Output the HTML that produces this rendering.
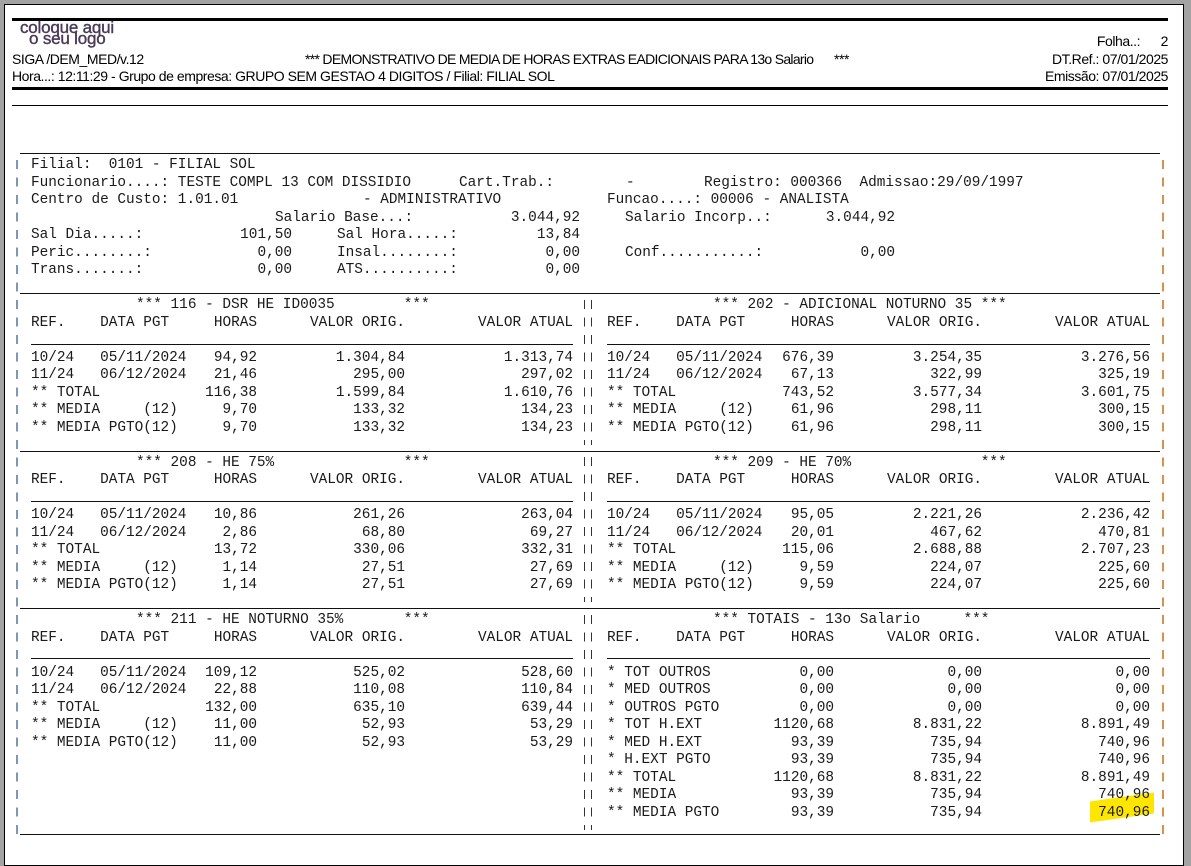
<!DOCTYPE html>
<html><head><meta charset="utf-8"><style>
body{margin:0;width:1191px;height:852px;background:#a3a3a3;position:relative;overflow:hidden}
.pg{position:absolute;left:4px;top:4px;width:1178px;height:860px;background:#fff;border:1px solid #000}
.t{position:absolute;white-space:pre;font-family:"Liberation Mono",monospace;font-size:14.4px;line-height:1;color:#1a1a1a}
.h{position:absolute;white-space:pre;font-family:"Liberation Sans",sans-serif;font-size:14px;line-height:1;color:#000;letter-spacing:-0.45px}
.ln{position:absolute;height:1px;background:#111}
</style></head><body>
<div class="pg"></div>
<div style="position:absolute;left:12px;top:18px;width:1156px;height:3px;background:#000"></div>
<div style="position:absolute;left:12px;top:87px;width:1156px;height:3px;background:#000"></div>
<div style="position:absolute;left:12px;top:105px;width:1156px;height:1px;background:#000"></div>
<div style="position:absolute;left:20px;top:22px;font:17px/11px 'Liberation Sans',sans-serif;color:#4a3a5a;letter-spacing:-0.2px;-webkit-text-stroke:0.4px #4a3a5a">coloque aqui<br>&nbsp;&nbsp;o seu logo</div>
<div class="h" style="right:23px;top:34px">Folha..:      2</div>
<div class="h" style="left:12px;top:52px">SIGA /DEM_MED/v.12</div>
<div class="h" style="left:305px;top:52px;letter-spacing:-0.7px">*** DEMONSTRATIVO DE MEDIA DE HORAS EXTRAS EADICIONAIS PARA 13o Salario</div>
<div class="h" style="left:834px;top:52px">***</div>
<div class="h" style="right:23px;top:52px">DT.Ref.: 07/01/2025</div>
<div class="h" style="left:12px;top:69px">Hora...: 12:11:29 - Grupo de empresa: GRUPO SEM GESTAO 4 DIGITOS / Filial: FILIAL SOL</div>
<div class="h" style="right:23px;top:69px">Emissão: 07/01/2025</div>

<div style="position:absolute;left:1090px;top:797px;width:64px;height:21px;background:#ffe600;transform:skewY(-8deg)"></div>

<div class="ln" style="left:20px;width:1140px;top:153px"></div>
<div class="ln" style="left:20px;width:1140px;top:293px"></div>
<div class="ln" style="left:20px;width:1140px;top:451px"></div>
<div class="ln" style="left:20px;width:1140px;top:608px"></div>
<div class="ln" style="left:20px;width:1140px;top:834px"></div>
<div class="ln" style="left:31px;width:542px;top:344px"></div><div class="ln" style="left:607px;width:543px;top:344px"></div>
<div class="ln" style="left:31px;width:542px;top:501px"></div><div class="ln" style="left:607px;width:543px;top:501px"></div>
<div class="ln" style="left:31px;width:542px;top:658px"></div><div class="ln" style="left:607px;width:543px;top:658px"></div>

<div style="position:absolute;left:16px;top:160px;width:2px;height:675px;background:repeating-linear-gradient(to bottom,#7c98b8 0 9px,transparent 9px 17.5px)"></div>
<div style="position:absolute;left:1162px;top:160px;width:2px;height:675px;background:repeating-linear-gradient(to bottom,#d8914a 0 9px,transparent 9px 17.5px)"></div>

<div style="position:absolute;left:584px;top:300px;width:9px;height:145px;background:repeating-linear-gradient(to bottom,#333 0 9px,transparent 9px 17.5px);-webkit-mask:linear-gradient(to right,#000 0 1px,transparent 1px 7px,#000 7px 8px,transparent 8px);mask:linear-gradient(to right,#000 0 1px,transparent 1px 7px,#000 7px 8px,transparent 8px)"></div>
<div style="position:absolute;left:584px;top:457px;width:9px;height:145px;background:repeating-linear-gradient(to bottom,#333 0 9px,transparent 9px 17.5px);-webkit-mask:linear-gradient(to right,#000 0 1px,transparent 1px 7px,#000 7px 8px,transparent 8px);mask:linear-gradient(to right,#000 0 1px,transparent 1px 7px,#000 7px 8px,transparent 8px)"></div>
<div style="position:absolute;left:584px;top:615px;width:9px;height:215px;background:repeating-linear-gradient(to bottom,#333 0 9px,transparent 9px 17.5px);-webkit-mask:linear-gradient(to right,#000 0 1px,transparent 1px 7px,#000 7px 8px,transparent 8px);mask:linear-gradient(to right,#000 0 1px,transparent 1px 7px,#000 7px 8px,transparent 8px)"></div>

<div class="t" style="left:31px;top:158px">Filial:  0101 - FILIAL SOL</div>
<div class="t" style="left:31px;top:175.5px">Funcionario....: TESTE COMPL 13 COM DISSIDIO</div>
<div class="t" style="left:459px;top:175.5px">Cart.Trab.:</div>
<div class="t" style="left:626px;top:175.5px">-</div>
<div class="t" style="left:704px;top:175.5px">Registro: 000366  Admissao:29/09/1997</div>
<div class="t" style="left:31px;top:193px">Centro de Custo: 1.01.01</div>
<div class="t" style="left:363px;top:193px">- ADMINISTRATIVO</div>
<div class="t" style="left:607px;top:193px">Funcao....: 00006 - ANALISTA</div>
<div class="t" style="left:275px;top:210.5px">Salario Base...:</div>
<div class="t" style="right:611px;top:210.5px">3.044,92</div>
<div class="t" style="left:625px;top:210.5px">Salario Incorp..:</div>
<div class="t" style="right:296px;top:210.5px">3.044,92</div>
<div class="t" style="left:31px;top:228px">Sal Dia.....:</div>
<div class="t" style="right:899px;top:228px">101,50</div>
<div class="t" style="left:337px;top:228px">Sal Hora.....:</div>
<div class="t" style="right:611px;top:228px">13,84</div>
<div class="t" style="left:31px;top:245.5px">Peric........:</div>
<div class="t" style="right:899px;top:245.5px">0,00</div>
<div class="t" style="left:337px;top:245.5px">Insal........:</div>
<div class="t" style="right:611px;top:245.5px">0,00</div>
<div class="t" style="left:625px;top:245.5px">Conf...........:</div>
<div class="t" style="right:296px;top:245.5px">0,00</div>
<div class="t" style="left:31px;top:263px">Trans.......:</div>
<div class="t" style="right:899px;top:263px">0,00</div>
<div class="t" style="left:337px;top:263px">ATS..........:</div>
<div class="t" style="right:611px;top:263px">0,00</div>

<div class="t" style="left:136px;top:298px">*** 116 - DSR HE ID0035        ***</div>
<div class="t" style="left:713px;top:298px">*** 202 - ADICIONAL NOTURNO 35 ***</div>
<div class="t" style="left:31px;top:315.5px">REF.    DATA PGT</div><div class="t" style="right:934px;top:315.5px">HORAS</div><div class="t" style="right:786px;top:315.5px">VALOR ORIG.</div><div class="t" style="right:618px;top:315.5px">VALOR ATUAL</div>
<div class="t" style="left:607px;top:315.5px">REF.    DATA PGT</div><div class="t" style="right:357px;top:315.5px">HORAS</div><div class="t" style="right:209px;top:315.5px">VALOR ORIG.</div><div class="t" style="right:41px;top:315.5px">VALOR ATUAL</div>

<div class="t" style="left:31px;top:350.5px">10/24   05/11/2024</div><div class="t" style="right:934px;top:350.5px">94,92</div><div class="t" style="right:786px;top:350.5px">1.304,84</div><div class="t" style="right:618px;top:350.5px">1.313,74</div>
<div class="t" style="left:607px;top:350.5px">10/24   05/11/2024</div><div class="t" style="right:357px;top:350.5px">676,39</div><div class="t" style="right:209px;top:350.5px">3.254,35</div><div class="t" style="right:41px;top:350.5px">3.276,56</div>
<div class="t" style="left:31px;top:368px">11/24   06/12/2024</div><div class="t" style="right:934px;top:368px">21,46</div><div class="t" style="right:786px;top:368px">295,00</div><div class="t" style="right:618px;top:368px">297,02</div>
<div class="t" style="left:607px;top:368px">11/24   06/12/2024</div><div class="t" style="right:357px;top:368px">67,13</div><div class="t" style="right:209px;top:368px">322,99</div><div class="t" style="right:41px;top:368px">325,19</div>
<div class="t" style="left:31px;top:385.5px">** TOTAL</div><div class="t" style="right:934px;top:385.5px">116,38</div><div class="t" style="right:786px;top:385.5px">1.599,84</div><div class="t" style="right:618px;top:385.5px">1.610,76</div>
<div class="t" style="left:607px;top:385.5px">** TOTAL</div><div class="t" style="right:357px;top:385.5px">743,52</div><div class="t" style="right:209px;top:385.5px">3.577,34</div><div class="t" style="right:41px;top:385.5px">3.601,75</div>
<div class="t" style="left:31px;top:403px">** MEDIA     (12)</div><div class="t" style="right:934px;top:403px">9,70</div><div class="t" style="right:786px;top:403px">133,32</div><div class="t" style="right:618px;top:403px">134,23</div>
<div class="t" style="left:607px;top:403px">** MEDIA     (12)</div><div class="t" style="right:357px;top:403px">61,96</div><div class="t" style="right:209px;top:403px">298,11</div><div class="t" style="right:41px;top:403px">300,15</div>
<div class="t" style="left:31px;top:420.5px">** MEDIA PGTO(12)</div><div class="t" style="right:934px;top:420.5px">9,70</div><div class="t" style="right:786px;top:420.5px">133,32</div><div class="t" style="right:618px;top:420.5px">134,23</div>
<div class="t" style="left:607px;top:420.5px">** MEDIA PGTO(12)</div><div class="t" style="right:357px;top:420.5px">61,96</div><div class="t" style="right:209px;top:420.5px">298,11</div><div class="t" style="right:41px;top:420.5px">300,15</div>

<div class="t" style="left:136px;top:455.5px">*** 208 - HE 75%               ***</div>
<div class="t" style="left:713px;top:455.5px">*** 209 - HE 70%               ***</div>
<div class="t" style="left:31px;top:473px">REF.    DATA PGT</div><div class="t" style="right:934px;top:473px">HORAS</div><div class="t" style="right:786px;top:473px">VALOR ORIG.</div><div class="t" style="right:618px;top:473px">VALOR ATUAL</div>
<div class="t" style="left:607px;top:473px">REF.    DATA PGT</div><div class="t" style="right:357px;top:473px">HORAS</div><div class="t" style="right:209px;top:473px">VALOR ORIG.</div><div class="t" style="right:41px;top:473px">VALOR ATUAL</div>
<div class="t" style="left:31px;top:508px">10/24   05/11/2024</div><div class="t" style="right:934px;top:508px">10,86</div><div class="t" style="right:786px;top:508px">261,26</div><div class="t" style="right:618px;top:508px">263,04</div>
<div class="t" style="left:607px;top:508px">10/24   05/11/2024</div><div class="t" style="right:357px;top:508px">95,05</div><div class="t" style="right:209px;top:508px">2.221,26</div><div class="t" style="right:41px;top:508px">2.236,42</div>
<div class="t" style="left:31px;top:525.5px">11/24   06/12/2024</div><div class="t" style="right:934px;top:525.5px">2,86</div><div class="t" style="right:786px;top:525.5px">68,80</div><div class="t" style="right:618px;top:525.5px">69,27</div>
<div class="t" style="left:607px;top:525.5px">11/24   06/12/2024</div><div class="t" style="right:357px;top:525.5px">20,01</div><div class="t" style="right:209px;top:525.5px">467,62</div><div class="t" style="right:41px;top:525.5px">470,81</div>
<div class="t" style="left:31px;top:543px">** TOTAL</div><div class="t" style="right:934px;top:543px">13,72</div><div class="t" style="right:786px;top:543px">330,06</div><div class="t" style="right:618px;top:543px">332,31</div>
<div class="t" style="left:607px;top:543px">** TOTAL</div><div class="t" style="right:357px;top:543px">115,06</div><div class="t" style="right:209px;top:543px">2.688,88</div><div class="t" style="right:41px;top:543px">2.707,23</div>
<div class="t" style="left:31px;top:560.5px">** MEDIA     (12)</div><div class="t" style="right:934px;top:560.5px">1,14</div><div class="t" style="right:786px;top:560.5px">27,51</div><div class="t" style="right:618px;top:560.5px">27,69</div>
<div class="t" style="left:607px;top:560.5px">** MEDIA     (12)</div><div class="t" style="right:357px;top:560.5px">9,59</div><div class="t" style="right:209px;top:560.5px">224,07</div><div class="t" style="right:41px;top:560.5px">225,60</div>
<div class="t" style="left:31px;top:578px">** MEDIA PGTO(12)</div><div class="t" style="right:934px;top:578px">1,14</div><div class="t" style="right:786px;top:578px">27,51</div><div class="t" style="right:618px;top:578px">27,69</div>
<div class="t" style="left:607px;top:578px">** MEDIA PGTO(12)</div><div class="t" style="right:357px;top:578px">9,59</div><div class="t" style="right:209px;top:578px">224,07</div><div class="t" style="right:41px;top:578px">225,60</div>

<div class="t" style="left:136px;top:613px">*** 211 - HE NOTURNO 35%       ***</div>
<div class="t" style="left:713px;top:613px">*** TOTAIS - 13o Salario     ***</div>
<div class="t" style="left:31px;top:630.5px">REF.    DATA PGT</div><div class="t" style="right:934px;top:630.5px">HORAS</div><div class="t" style="right:786px;top:630.5px">VALOR ORIG.</div><div class="t" style="right:618px;top:630.5px">VALOR ATUAL</div>
<div class="t" style="left:607px;top:630.5px">REF.    DATA PGT</div><div class="t" style="right:357px;top:630.5px">HORAS</div><div class="t" style="right:209px;top:630.5px">VALOR ORIG.</div><div class="t" style="right:41px;top:630.5px">VALOR ATUAL</div>
<div class="t" style="left:31px;top:665.5px">10/24   05/11/2024</div><div class="t" style="right:934px;top:665.5px">109,12</div><div class="t" style="right:786px;top:665.5px">525,02</div><div class="t" style="right:618px;top:665.5px">528,60</div>
<div class="t" style="left:31px;top:683px">11/24   06/12/2024</div><div class="t" style="right:934px;top:683px">22,88</div><div class="t" style="right:786px;top:683px">110,08</div><div class="t" style="right:618px;top:683px">110,84</div>
<div class="t" style="left:31px;top:700.5px">** TOTAL</div><div class="t" style="right:934px;top:700.5px">132,00</div><div class="t" style="right:786px;top:700.5px">635,10</div><div class="t" style="right:618px;top:700.5px">639,44</div>
<div class="t" style="left:31px;top:718px">** MEDIA     (12)</div><div class="t" style="right:934px;top:718px">11,00</div><div class="t" style="right:786px;top:718px">52,93</div><div class="t" style="right:618px;top:718px">53,29</div>
<div class="t" style="left:31px;top:735.5px">** MEDIA PGTO(12)</div><div class="t" style="right:934px;top:735.5px">11,00</div><div class="t" style="right:786px;top:735.5px">52,93</div><div class="t" style="right:618px;top:735.5px">53,29</div>

<div class="t" style="left:607px;top:665.5px">* TOT OUTROS</div><div class="t" style="right:357px;top:665.5px">0,00</div><div class="t" style="right:209px;top:665.5px">0,00</div><div class="t" style="right:41px;top:665.5px">0,00</div>
<div class="t" style="left:607px;top:683px">* MED OUTROS</div><div class="t" style="right:357px;top:683px">0,00</div><div class="t" style="right:209px;top:683px">0,00</div><div class="t" style="right:41px;top:683px">0,00</div>
<div class="t" style="left:607px;top:700.5px">* OUTROS PGTO</div><div class="t" style="right:357px;top:700.5px">0,00</div><div class="t" style="right:209px;top:700.5px">0,00</div><div class="t" style="right:41px;top:700.5px">0,00</div>
<div class="t" style="left:607px;top:718px">* TOT H.EXT</div><div class="t" style="right:357px;top:718px">1120,68</div><div class="t" style="right:209px;top:718px">8.831,22</div><div class="t" style="right:41px;top:718px">8.891,49</div>
<div class="t" style="left:607px;top:735.5px">* MED H.EXT</div><div class="t" style="right:357px;top:735.5px">93,39</div><div class="t" style="right:209px;top:735.5px">735,94</div><div class="t" style="right:41px;top:735.5px">740,96</div>
<div class="t" style="left:607px;top:753px">* H.EXT PGTO</div><div class="t" style="right:357px;top:753px">93,39</div><div class="t" style="right:209px;top:753px">735,94</div><div class="t" style="right:41px;top:753px">740,96</div>
<div class="t" style="left:607px;top:770.5px">** TOTAL</div><div class="t" style="right:357px;top:770.5px">1120,68</div><div class="t" style="right:209px;top:770.5px">8.831,22</div><div class="t" style="right:41px;top:770.5px">8.891,49</div>
<div class="t" style="left:607px;top:788px">** MEDIA</div><div class="t" style="right:357px;top:788px">93,39</div><div class="t" style="right:209px;top:788px">735,94</div><div class="t" style="right:41px;top:788px">740,96</div>
<div class="t" style="left:607px;top:805.5px">** MEDIA PGTO</div><div class="t" style="right:357px;top:805.5px">93,39</div><div class="t" style="right:209px;top:805.5px">735,94</div><div class="t" style="right:41px;top:805.5px">740,96</div>
</body></html>
